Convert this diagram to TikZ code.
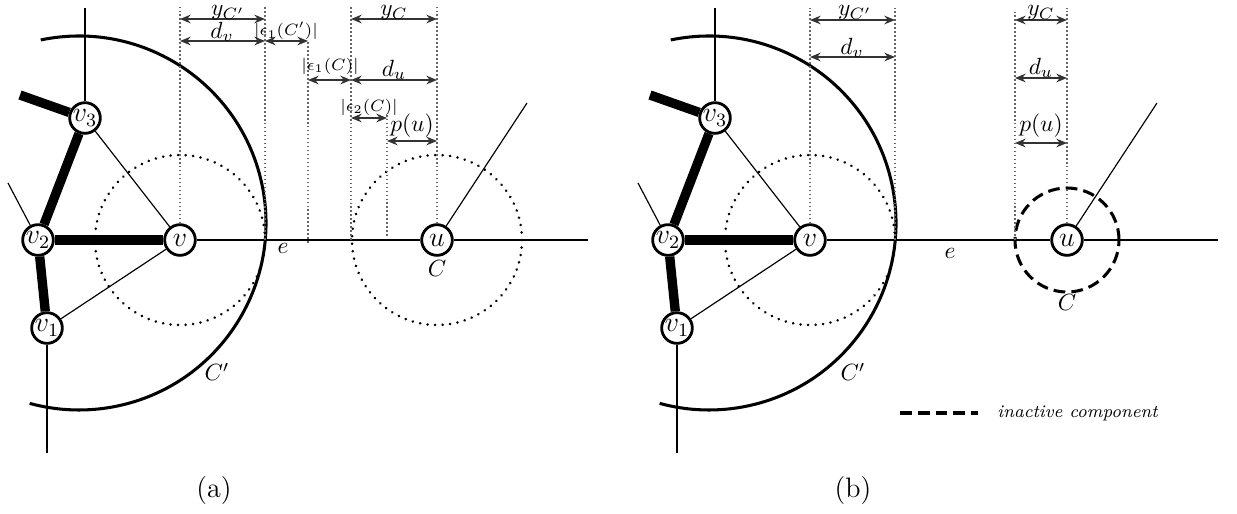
\documentclass[tikz,border=0pt]{standalone}
\usetikzlibrary{arrows.meta,positioning}

\begin{document}
\begin{tikzpicture}[x=0.15mm, y=0.15mm,
    vert/.style={circle, draw, line width=1.2pt, fill=white, minimum size=4.6mm, inner sep=0pt, font=\fontsize{11.5}{14}\selectfont},
    heavy/.style={line width=4pt},
    edge/.style={line width=0.5pt},
    ring/.style={line width=1.2pt, dash pattern=on 0.01pt off 3.2pt, line cap=round},
    bigarc/.style={line width=1.3pt},
    guide/.style={densely dotted, line width=0.7pt, black!60},
    dim/.style={{Stealth[length=1.6mm,width=1.3mm]}-{Stealth[length=1.6mm,width=1.3mm]}, line width=0.6pt, black!80},
    inactive/.style={line width=1.3pt, dash pattern=on 5pt off 2.6pt},
    lbl/.style={inner sep=0pt},
    small lbl/.style={inner sep=0pt, font=\fontsize{7}{8}\selectfont},
    cap lbl/.style={inner sep=0pt, font=\large}
]
    \useasboundingbox (-180,-273) rectangle (1057,240);

    % the graph, once per panel
    \foreach \p/\dx in {a/0, b/630} {
    \begin{scope}[shift={(\dx,0)}]
        \node[vert] (v\p) at (0,0) {$v$};
        \node[vert] (v2\p) at (-142,0) {$v_2$};
        \node[vert] (v3\p) at (-95,122) {$v_3$};
        \node[vert] (v1\p) at (-133,-88) {$v_1$};
        \node[vert] (u\p) at (257,0) {$u$};
        \coordinate (s3\p) at (-160,145);
        \coordinate (t3\p) at (-95,232);
        \coordinate (t1\p) at (-133,-213);
        \coordinate (t2\p) at (-172,57);
        \coordinate (tu\p) at (347,137);
        \coordinate (te\p) at (408,0);
        \coordinate (cc\p) at (-101,17);

        \draw[heavy] (v2\p) -- (v\p);
        \draw[heavy] (v2\p) -- (v3\p);
        \draw[heavy] (v2\p) -- (v1\p);
        \draw[heavy] (v3\p) -- (s3\p);
        \draw[edge] (v3\p) -- (v\p);
        \draw[edge] (v1\p) -- (v\p);
        \draw[edge] (v3\p) -- (t3\p);
        \draw[edge] (v1\p) -- (t1\p);
        \draw[edge] (v2\p) -- (t2\p);
        \draw[edge] (v\p) -- (u\p);
        \draw[edge] (u\p) -- (te\p);
        \draw[edge] (u\p) -- (tu\p);

        \draw[ring] (v\p) circle[radius=85];
        \draw[bigarc] (cc\p) ++(101.8:187) arc[start angle=101.8, end angle=-105.3, radius=187];
    \end{scope}
    }

    % panel (a)
    \draw[ring] (ua) circle[radius=85];
    \draw[guide] (va) -- (0,233);
    \draw[guide] (85,0) -- (85,233);
    \draw[guide] (128,-3) -- (128,198);
    \draw[guide] (171,0) -- (171,233);
    \draw[guide] (207,4) -- (207,127);
    \draw[guide] (ua) -- (257,233);

    \draw[dim] (0,221) -- (85,221);
    \draw[dim] (0,199) -- (85,199);
    \draw[dim] (85,199) -- (128,199);
    \draw[dim] (128,160) -- (171,160);
    \draw[dim] (171,160) -- (257,160);
    \draw[dim] (171,221) -- (257,221);
    \draw[dim] (171,122) -- (207,122);
    \draw[dim] (207,99) -- (257,99);

    \node[lbl] (yCpa) at (48,227) {$y_{C'}$};
    \node[lbl] (dva) at (42,208) {$d_v$};
    \node[small lbl] (eoCpa) at (106,209) {$|\epsilon_1(C')|$};
    \node[small lbl] (eoCa) at (150,174) {$|\epsilon_1(C)|$};
    \node[lbl] (dua) at (214,170) {$d_u$};
    \node[lbl] (yCa) at (214,227) {$y_C$};
    \node[small lbl] (etCa) at (189,133) {$|\epsilon_2(C)|$};
    \node[lbl] (pua) at (232,114) {$p(u)$};

    \node[lbl] (ea) at (103,-8) {$e$};
    \node[lbl] (Ca) at (257,-28) {$C$};
    \node[lbl] (Cpa) at (37,-132) {$C'$};
    \node[cap lbl] (capa) at (34,-250) {(a)};

    % panel (b)
    \begin{scope}[shift={(630,0)}]
        \draw[inactive] (ub) circle[radius=52];
        \draw[guide] (vb) -- (0,232);
        \draw[guide] (85,0) -- (85,232);
        \draw[guide] (205,0) -- (205,228);
        \draw[guide] (ub) -- (257,232);

        \draw[dim] (0,220) -- (85,220);
        \draw[dim] (0,183) -- (85,183);
        \draw[dim] (205,220) -- (257,220);
        \draw[dim] (205,162) -- (257,162);
        \draw[dim] (205,97) -- (257,97);

        \node[lbl] (yCpb) at (45,227) {$y_{C'}$};
        \node[lbl] (dvb) at (42,192) {$d_v$};
        \node[lbl] (yCb) at (231,227) {$y_C$};
        \node[lbl] (dub) at (231,172) {$d_u$};
        \node[lbl] (pub) at (231,114) {$p(u)$};

        \node[lbl] (eb) at (140,-13) {$e$};
        \node[lbl] (Cb) at (257,-62) {$C$};
        \node[lbl] (Cpb) at (43,-132) {$C'$};
        \node[cap lbl] (capb) at (43,-250) {(b)};

        % legend
        \coordinate (lga) at (90,-173);
        \coordinate (lgb) at (168,-173);
        \draw[inactive] (lga) -- (lgb);
        \node[lbl, anchor=west, font=\fontsize{7.6}{9}\selectfont\itshape] (lgtext) at (187,-173) {inactive component};
    \end{scope}
\end{tikzpicture}
\end{document}
